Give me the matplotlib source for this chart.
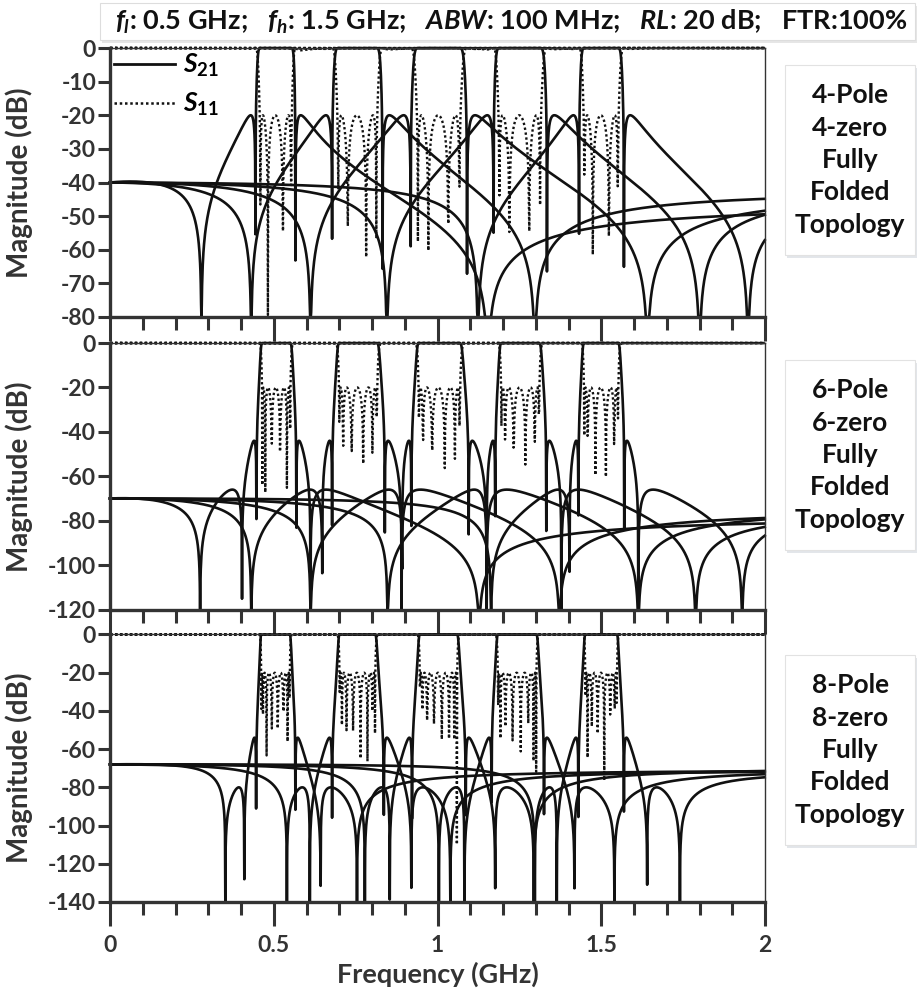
import numpy as np
import matplotlib.pyplot as plt
from matplotlib.lines import Line2D
from matplotlib.patches import Rectangle

plt.rcParams["font.family"] = ["Lato", "DejaVu Sans"]
plt.rcParams["font.weight"] = "bold"
plt.rcParams["axes.labelweight"] = "bold"
plt.rcParams["mathtext.fontset"] = "custom"
plt.rcParams["mathtext.rm"] = "Lato:bold"
plt.rcParams["mathtext.it"] = "Lato:italic:bold"
plt.rcParams["mathtext.bf"] = "Lato:bold"
plt.rcParams["axes.unicode_minus"] = False

freq = np.arange(2000) / 1000.0 + 3e-5    # GHz, 1 MHz step
rl = 20.0                                 # return loss (dB)

# ripple-band edges (GHz) of the five tuning states + transmission zeros (GHz)
edges_4p = [(0.457, 0.555), (0.694, 0.816), (0.937, 1.070), (1.186, 1.316), (1.446, 1.553)]
tz_4p = [[0.279, 0.444, 0.566, 1.154],
         [0.431, 0.678, 0.832, 1.297],
         [0.612, 0.918, 1.090, 1.641],
         [0.845, 1.171, 1.334, 1.800],
         [1.123, 1.432, 1.569, 1.948]]

edges_6p = [(0.464, 0.551), (0.699, 0.816), (0.942, 1.069), (1.194, 1.311), (1.447, 1.552)]
tz_6p = [[0.275, 0.403, 0.447, 0.569, 0.612, 1.127],
         [0.431, 0.648, 0.678, 0.839, 0.890, 1.372],
         [0.612, 0.892, 0.920, 1.095, 1.150, 1.613],
         [0.847, 1.150, 1.176, 1.332, 1.378, 1.788],
         [1.163, 1.403, 1.430, 1.570, 1.613, 1.930]]

edges_8p = [(0.4615, 0.549), (0.7005, 0.810), (0.9456, 1.060), (1.184, 1.302), (1.451, 1.548)]
tz_8p = [[0.352, 0.410, 0.446, 0.566, 0.643, 0.754],
         [0.540, 0.610, 0.678, 0.836, 0.920, 1.039],
         [0.778, 0.854, 0.922, 1.086, 1.176, 1.294],
         [1.004, 1.082, 1.165, 1.325, 1.418, 1.540],
         [1.297, 1.364, 1.430, 1.569, 1.640, 1.740]]
jz_8p = 2.0          # normalised imaginary zero pair

# stopband peak levels (dB), going outward from the passband, and the level at DC
lobes = [[-20.0], [-44.0, -66.0], [-54.0, -80.0]]
dc_db = [-40.0, -70.0, -68.0]

ylims = [-80, -120, -140]
ystep = [10, 20, 20]
names = ["4-Pole\n4-zero\nFully\nFolded\nTopology",
         "6-Pole\n6-zero\nFully\nFolded\nTopology",
         "8-Pole\n8-zero\nFully\nFolded\nTopology"]


def response(f1, f2, zeros, jz, levels, dc):
    f0 = np.sqrt(f1 * f2)
    bw = (f2 - f1) / f0
    w = (freq / f0 - f0 / freq) / bw
    wz = [(z / f0 - f0 / z) / bw for z in zeros]
    if jz:
        wz += [1j * jz, -1j * jz]
    wp = np.sqrt(w.astype(complex) ** 2 - 1)
    g1 = np.ones(len(w), complex)
    g2 = np.ones(len(w), complex)
    p = np.ones(len(w), complex)
    for z in wz:
        c = w - 1 / z
        d = wp * np.sqrt(1 - 1 / z ** 2 + 0j)
        g1 *= c + d
        g2 *= c - d
        p *= 1 - w / z
    cn = ((g1 + g2) / (2 * p)).real
    eps2 = 1 / (10 ** (rl / 10) - 1)
    t = eps2 * cn ** 2

    # rescale every stretch between two zeros so its peak sits at the read level
    k = np.ones(len(t))
    low = sorted([z for z in zeros if z < f0], reverse=True)
    high = sorted([z for z in zeros if z > f0])
    for side, zz in (("lo", low), ("hi", high)):
        scale = 1.0
        for j, a in enumerate(zz):
            b = zz[j + 1] if j + 1 < len(zz) else (0.0 if side == "lo" else 9.0)
            seg = (freq > min(a, b)) & (freq < max(a, b))
            if j < len(levels):
                scale = (10 ** (-levels[j] / 10) - 1) / np.nanmin(t[seg])
            elif side == "lo":
                scale = (10 ** (-dc / 10) - 1) / t[seg][0]
            k[seg] = scale
    ts = t * k

    with np.errstate(divide="ignore", invalid="ignore"):
        s21 = -10 * np.log10(1 + ts)
        s11 = -10 * np.log10(1 + 1 / t)
    return np.nan_to_num(s21, nan=-300), np.nan_to_num(s11, nan=-300)


fig = plt.figure(figsize=(9.2, 9.9), dpi=100)
rects = [[0.1196, 0.6798, 0.712, 0.2717],
         [0.1196, 0.3843, 0.712, 0.2692],
         [0.1196, 0.0889, 0.712, 0.2702]]
sets = [(edges_4p, tz_4p, None), (edges_6p, tz_6p, None), (edges_8p, tz_8p, jz_8p)]
dot = (0, (1, 1.1))
ink = "#111111"
grey = "#333333"

axes = []
for i, (edges, tzs, jz) in enumerate(sets):
    ax = fig.add_axes(rects[i])
    axes.append(ax)
    for (f1, f2), z in zip(edges, tzs):
        s21, s11 = response(f1, f2, z, jz, lobes[i], dc_db[i])
        ax.plot(freq, np.clip(s11, ylims[i], 0), color=ink, lw=1.7, ls=dot, clip_on=False)
        ax.plot(freq, np.clip(s21, ylims[i], 0), color=ink, lw=1.9, clip_on=False)
    ax.set_xlim(0, 2)
    ax.set_ylim(ylims[i], 0)
    ax.set_yticks(np.arange(ylims[i], 1, ystep[i]))
    ax.set_xticks([0, 0.5, 1, 1.5, 2])
    ax.set_xticks(np.arange(0, 2.01, 0.1), minor=True)
    for side in ["left", "bottom"]:
        ax.spines[side].set_linewidth(2.4)
        ax.spines[side].set_color(grey)
    for side in ["top", "right"]:
        ax.spines[side].set_linewidth(1.0)
        ax.spines[side].set_color(grey)
    ax.tick_params(axis="y", direction="out", length=9, width=2.2, labelsize=16.5,
                   color=grey, labelcolor=grey, pad=1)
    ax.tick_params(axis="x", which="major", direction="out", length=17, width=2.2,
                   color=grey, labelcolor=grey, labelsize=16.5, pad=7)
    ax.tick_params(axis="x", which="minor", direction="out", length=9, width=2.2,
                   color=grey)
    ax.set_ylabel("Magnitude (dB)", fontsize=20, color=grey)
    ax.yaxis.set_label_coords(-0.117, 0.5)
    if i < 2:
        ax.set_xticklabels([])
    else:
        ax.set_xticklabels(["0", "0.5", "1", "1.5", "2"])
        ax.set_xlabel("Frequency (GHz)", fontsize=19.5, color=grey)
        ax.xaxis.set_label_coords(0.5, -0.222)
    for lab in ax.get_xticklabels() + ax.get_yticklabels():
        lab.set_fontweight("bold")

axes[0].legend(handles=[Line2D([], [], color=ink, lw=2.0),
                        Line2D([], [], color=ink, lw=1.8, ls=dot)],
               labels=[r"$S_{21}$", r"$S_{11}$"], loc="upper left", frameon=False,
               fontsize=19, handlelength=2.3, handletextpad=0.3, labelspacing=0.45,
               borderaxespad=0.0, borderpad=0.15)

# header strip
fig.patches.append(Rectangle((0.1107, 0.9566), 0.886, 0.0375, transform=fig.transFigure,
                             facecolor="#e6e6e6", edgecolor="none", zorder=0))
fig.patches.append(Rectangle((0.1087, 0.9596), 0.886, 0.0375, transform=fig.transFigure,
                             facecolor="white", edgecolor="#dddddd", lw=0.8, zorder=1))
fig.text(0.556, 0.9783,
         r"$f_l$: 0.5 GHz;   $f_h$: 1.5 GHz;   $ABW$: 100 MHz;   $RL$: 20 dB;   FTR:100%",
         ha="center", va="center", fontsize=19.5, color=ink)

# topology boxes
for y0, yc, txt in zip([0.7424, 0.4444, 0.1465], [0.8384, 0.5404, 0.2424], names):
    fig.patches.append(Rectangle((0.8553, y0 - 0.003), 0.1413, 0.1919, transform=fig.transFigure,
                                 facecolor="#e3e6ea", edgecolor="none", zorder=0))
    fig.patches.append(Rectangle((0.8533, y0), 0.1413, 0.1919, transform=fig.transFigure,
                                 facecolor="white", edgecolor="#e2e2e2", lw=0.8, zorder=1))
    fig.text(0.924, yc, txt, ha="center", va="center", fontsize=19, linespacing=1.42,
             color=ink)

fig.savefig("out.png", dpi=100)
